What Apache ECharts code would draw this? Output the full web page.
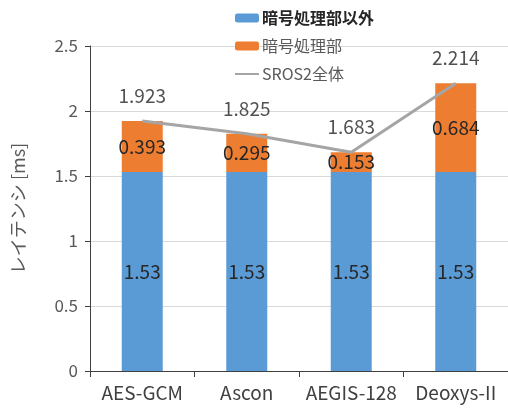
<!DOCTYPE html>
<html>
<head>
<meta charset="utf-8">
<script src="https://cdn.jsdelivr.net/npm/echarts@6/dist/echarts.min.js"></script>
<style>
  html, body { margin: 0; padding: 0; background: #fff; }
  #chart { width: 508px; height: 410px; }
</style>
</head>
<body>
<div id="chart"></div>
<script>
// Latency breakdown per cipher
const categories = ['AES-GCM', 'Ascon', 'AEGIS-128', 'Deoxys-II'];
const otherPart = [1.53, 1.53, 1.53, 1.53];        // 暗号処理部以外
const cryptoPart = [0.393, 0.295, 0.153, 0.684];   // 暗号処理部
const totalLatency = [1.923, 1.825, 1.683, 2.214]; // SROS2全体
const yTicks = [0, 0.5, 1, 1.5, 2, 2.5];

const FONT = '"Noto Sans CJK JP", "Noto Sans", sans-serif';
const LABEL_SIZE = 19;

const chart = echarts.init(document.getElementById('chart'), null, { renderer: 'canvas' });

chart.setOption({
  animation: false,
  textStyle: { fontFamily: FONT },
  grid: { left: 90, right: 0, top: 46, bottom: 39, containLabel: false },
  legend: {
    orient: 'vertical',
    left: 234,
    top: 7,
    padding: 0,
    itemWidth: 24,
    itemHeight: 9,
    itemGap: 6,
    data: [
      { name: '暗号処理部以外', textStyle: { fontWeight: 'bold', color: '#262626' } },
      { name: '暗号処理部' },
      { name: 'SROS2全体', itemStyle: { opacity: 0 } }
    ],
    textStyle: { fontFamily: FONT, fontSize: 16, lineHeight: 22, color: '#595959', padding: [0, 0, 0, -2] }
  },
  xAxis: {
    type: 'category',
    data: categories,
    axisLine: { lineStyle: { color: '#404040', width: 1 } },
    axisTick: { show: true, alignWithLabel: false, length: 6, lineStyle: { color: '#404040' } },
    axisLabel: { interval: 0, fontFamily: FONT, fontSize: 19, color: '#404040', margin: 12 }
  },
  yAxis: {
    type: 'value',
    min: yTicks[0],
    max: yTicks[yTicks.length - 1],
    interval: 0.5,
    name: 'レイテンシ [ms]',
    nameLocation: 'middle',
    nameGap: 63,
    nameTextStyle: { fontFamily: FONT, fontSize: 18, color: '#595959' },
    axisLine: { show: true, lineStyle: { color: '#404040', width: 1 } },
    axisTick: { show: true, length: 5, lineStyle: { color: '#404040' } },
    axisLabel: { fontFamily: FONT, fontSize: 17, color: '#595959', margin: 12 },
    splitLine: { lineStyle: { color: '#d9d9d9', width: 1 } }
  },
  series: [
    {
      name: '暗号処理部以外',
      type: 'bar',
      stack: 'latency',
      barWidth: 41,
      data: otherPart,
      itemStyle: { color: '#5b9bd5' },
      label: { show: true, position: 'inside', fontFamily: FONT, fontSize: LABEL_SIZE, color: '#262626' }
    },
    {
      name: '暗号処理部',
      type: 'bar',
      stack: 'latency',
      barWidth: 41,
      data: cryptoPart,
      itemStyle: { color: '#ed7d31' },
      label: { show: true, position: 'inside', fontFamily: FONT, fontSize: LABEL_SIZE, color: '#262626' }
    },
    {
      name: 'SROS2全体',
      type: 'line',
      data: totalLatency,
      symbol: 'none',
      lineStyle: { color: '#a5a5a5', width: 3 },
      itemStyle: { color: '#a5a5a5' },
      z: 5
    },
    {
      // invisible points carrying the total-value labels above the line
      name: 'totalLabels',
      type: 'scatter',
      data: totalLatency,
      symbolSize: 1,
      itemStyle: { color: 'rgba(0,0,0,0)' },
      label: { show: true, position: 'top', distance: 15, fontFamily: FONT, fontSize: LABEL_SIZE, color: '#262626' },
      z: 6
    }
  ]
});
</script>
</body>
</html>
